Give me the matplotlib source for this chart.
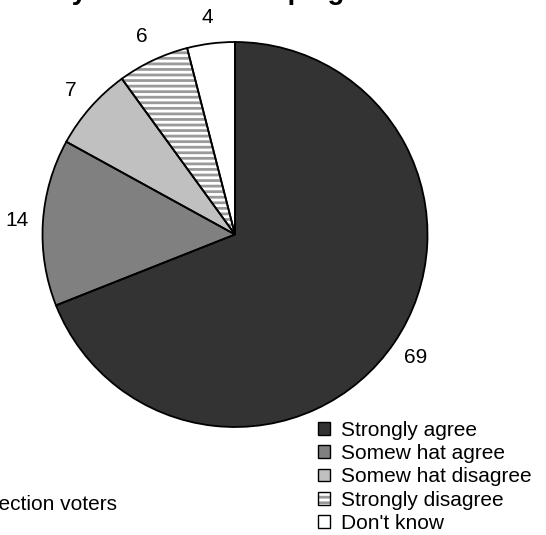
import matplotlib
matplotlib.use('Agg')
import matplotlib.pyplot as plt
from matplotlib.patches import Patch
import numpy as np

plt.rcParams['font.family'] = ['Liberation Sans', 'DejaVu Sans']
plt.rcParams['hatch.linewidth'] = 2.0

categories = ['Strongly agree', 'Somew hat agree', 'Somew hat disagree',
              'Strongly disagree', "Don't know"]
values = [69, 14, 7, 6, 4]
colors = ['#333333', '#808080', '#c0c0c0', 'white', 'white']
hatches = [None, None, None, '---', None]
hatch_colors = ['none', 'none', 'none', '#9a9a9a', 'none']

fig = plt.figure(figsize=(5.46, 5.35), dpi=100)
ax = fig.add_axes([42.5 / 546, 108 / 535, 385 / 546, 385 / 535])

# fill layer (hatch colour comes from the edge colour)
wedges, _ = ax.pie(values, colors=colors, startangle=90, counterclock=False,
                   radius=1, wedgeprops=dict(linewidth=0))
for w, h, hc in zip(wedges, hatches, hatch_colors):
    if h:
        w.set_hatch(h)
        w.set_edgecolor(hc)

# outline layer
outlines, _ = ax.pie(values, colors=['none'] * len(values), startangle=90,
                     counterclock=False, radius=1,
                     wedgeprops=dict(linewidth=1.3, edgecolor='black'))

# value labels outside the slices
for w, v in zip(wedges, values):
    ang = np.deg2rad((w.theta1 + w.theta2) / 2)
    ax.text(1.135 * np.cos(ang), 1.135 * np.sin(ang), str(v),
            ha='center', va='center', fontsize=15, clip_on=False)

ax.set_xlim(-1, 1)
ax.set_ylim(-1, 1)
ax.axis('off')

# legend
handles = []
for c, h, hc in zip(colors, hatches, hatch_colors):
    if h:
        handles.append((Patch(facecolor=c, edgecolor=hc, hatch=h, linewidth=0),
                        Patch(facecolor='none', edgecolor='black', linewidth=1.0)))
    else:
        handles.append(Patch(facecolor=c, edgecolor='black', linewidth=1.0))
fig.legend(handles, categories, loc='upper left',
           bbox_to_anchor=(318 / 546, 1 - 421 / 535), frameon=False,
           fontsize=15, handlelength=0.58, handleheight=0.58,
           handletextpad=0.53, labelspacing=0.2, borderpad=0,
           borderaxespad=0)

# title (cut off at the top edge, only descenders show)
fig.text(27 / 546, 1 + 1 / 535, 'Do you like the campaign material?',
         fontsize=20, fontweight='bold', ha='left', va='baseline')

# base note (cut off at the left edge)
fig.text(117 / 546, 1 - 504 / 535, 'Base: all general election voters',
         fontsize=15, ha='right', va='center')

fig.savefig('out.png', dpi=100)
